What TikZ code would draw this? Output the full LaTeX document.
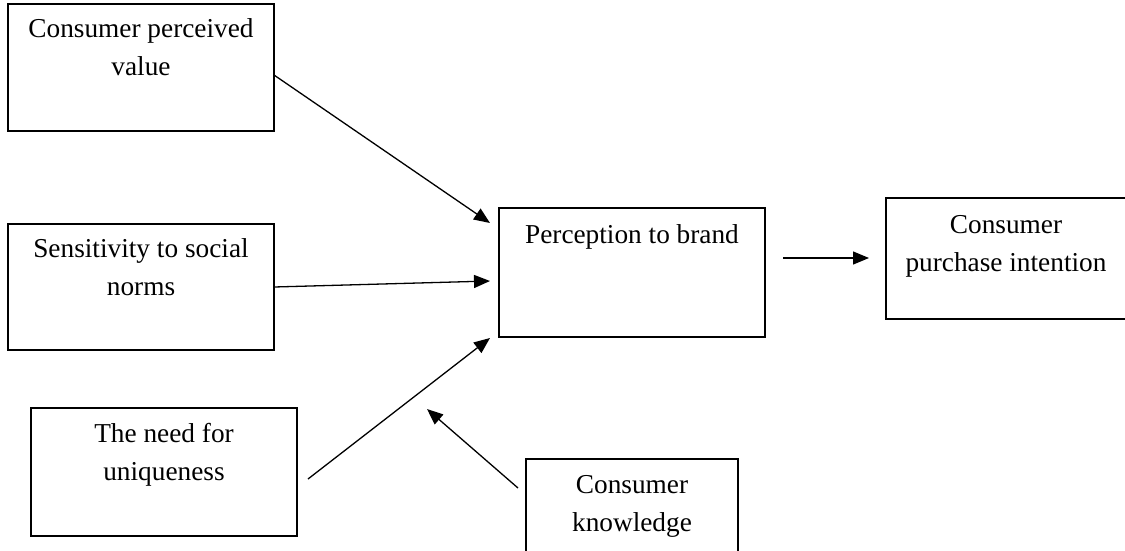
\documentclass[tikz,border=0pt]{standalone}
\usepackage{fontspec}
\setmainfont{Liberation Serif}
\usetikzlibrary{arrows.meta}
\newcommand{\bxt}[4]{\parbox[t][#2][t]{#1}{\centering\rule{0pt}{#3}#4}}
\begin{document}
\begin{tikzpicture}[x=1pt,y=-1pt,
  box/.style={draw, line width=1.6pt, inner sep=0pt, outer sep=0pt, font=\fontsize{27.3}{38}\selectfont},
  conn/.style={line width=1.3pt, -{Triangle[length=16pt,width=13pt]}}]
\useasboundingbox (0,0) rectangle (1125,550);
\begin{scope}
\clip (0,0) rectangle (1125,550);
\node[box] (cpv) at (141,67.5) {\bxt{266pt}{127pt}{33pt}{Consumer perceived\\value}};
\node[box] (ssn) at (141,287) {\bxt{266pt}{126pt}{33pt}{Sensitivity to social\\norms}};
\node[box] (nfu) at (164,472) {\bxt{266pt}{128pt}{34pt}{The need for\\uniqueness}};
\node[box] (ptb) at (632,272.5) {\bxt{266pt}{129pt}{35pt}{Perception to brand}};
\node[box] (cpi) at (1006,258.5) {\bxt{240pt}{121pt}{35pt}{Consumer\\purchase intention}};
\node[box] (ck) at (632,509) {\bxt{212pt}{100pt}{34pt}{Consumer\\knowledge}};
\end{scope}
\coordinate (t1) at (490,223);
\coordinate (t2) at (490,281);
\coordinate (s3) at (308,479);
\coordinate (t3) at (490,338);
\coordinate (s4) at (518,488);
\coordinate (t4) at (427,409);
\coordinate (s5) at (783,258);
\coordinate (t5) at (869,258);
\draw[conn] ([yshift=-7.5pt]cpv.east) -- (t1);
\draw[conn] (ssn.east) -- (t2);
\draw[conn] (s3) -- (t3);
\draw[conn] (s4) -- (t4);
\draw[conn] (s5) -- (t5);
\end{tikzpicture}
\end{document}
